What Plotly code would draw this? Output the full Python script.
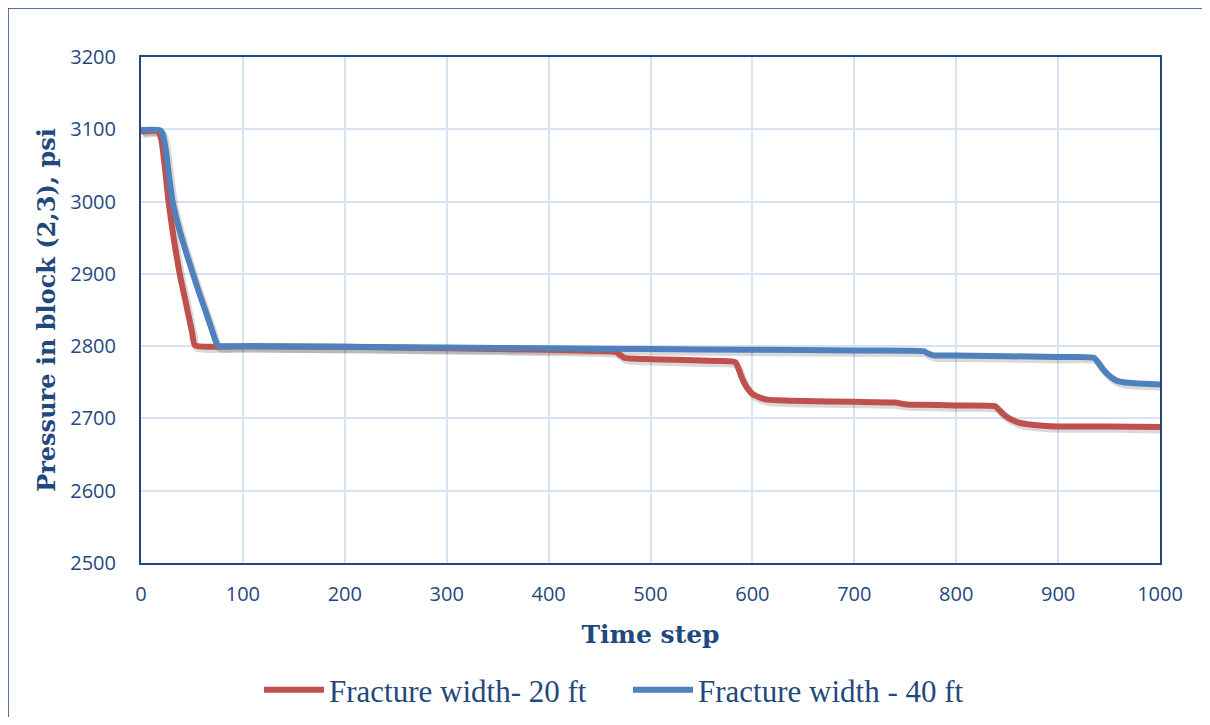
import plotly.graph_objects as go

# ---- data ----
t_20ft = [0, 17, 20, 24, 27, 32, 38, 44, 50, 53, 100, 200, 300, 400, 466, 470, 474, 480, 500, 550,
          583, 586, 590, 595, 600, 607, 615, 625, 650, 700, 740, 748, 755, 765, 800, 838, 842, 847,
          852, 860, 870, 885, 900, 950, 1000]
p_20ft = [3097, 3097, 3085, 3040, 3000, 2950, 2900, 2860, 2820, 2801, 2800, 2799, 2797, 2795, 2792,
          2788, 2784, 2783, 2782, 2780, 2778, 2770, 2755, 2742, 2734, 2729, 2726, 2725, 2724, 2723,
          2722, 2720, 2719, 2719, 2718, 2717, 2712, 2705, 2700, 2695, 2692, 2690, 2689, 2689, 2688]

t_40ft = [0, 18, 21, 24, 28, 31, 36, 41, 46, 51, 57, 63, 69, 75, 77, 100, 200, 300, 400, 500, 600,
          700, 768, 772, 776, 780, 800, 900, 935, 939, 943, 948, 953, 958, 964, 972, 985, 1000]
p_40ft = [3099, 3099, 3095, 3075, 3030, 3000, 2970, 2945, 2922, 2900, 2874, 2850, 2825, 2801, 2800,
          2800, 2799, 2798, 2797, 2796, 2795, 2794, 2793, 2790, 2788, 2787, 2787, 2785, 2784, 2778,
          2770, 2762, 2756, 2752, 2750, 2749, 2748, 2747]

series_names = ["Fracture width- 20 ft", "Fracture width - 40 ft"]
series_colors = ["#C0504D", "#4F81BD"]

x_ticks = list(range(0, 1001, 100))
y_ticks = list(range(2500, 3201, 100))

DARK = "#1F497D"
SERIF = "DejaVu Serif, Liberation Serif, serif"

fig = go.Figure()

# soft drop shadows (Excel-style)
for t, p in [(t_20ft, p_20ft), (t_40ft, p_40ft)]:
    fig.add_trace(go.Scatter(
        x=[v + 2 for v in t], y=[v - 4 for v in p], mode="lines",
        line=dict(color="rgba(0,0,0,0.15)", width=7, shape="spline", smoothing=0.5),
        showlegend=False, hoverinfo="skip"))

for t, p, name, col in [(t_20ft, p_20ft, series_names[0], series_colors[0]),
                        (t_40ft, p_40ft, series_names[1], series_colors[1])]:
    fig.add_trace(go.Scatter(
        x=t, y=p, mode="lines", name=name,
        line=dict(color=col, width=6, shape="spline", smoothing=0.5)))

axis_common = dict(
    showline=True, linecolor=DARK, linewidth=2, mirror=True,
    showgrid=True, gridcolor="#D6E3F2", gridwidth=1.5,
    zeroline=False, ticks="",
    tickfont=dict(family="Open Sans, Liberation Sans, sans-serif", size=20, color=DARK),
)

fig.update_xaxes(
    range=[0, 1000], tickvals=x_ticks, ticktext=[str(v) for v in x_ticks],
    ticklabelstandoff=12,
    title=dict(text="<b>Time step</b>",
               font=dict(family=SERIF, size=25, color=DARK),
               standoff=19),
    **axis_common)
fig.update_yaxes(
    range=[2500, 3200], tickvals=y_ticks, ticktext=[str(v) for v in y_ticks],
    ticklabelstandoff=19,
    title=dict(text="<b>Pressure in block (2,3), psi</b>",
               font=dict(family=SERIF, size=24, color=DARK),
               standoff=8),
    **axis_common)

# page body has an 8px margin; figure is sized so plot area sits where the reference's does
W, H = 1194, 709
l, t_m = 133, 49
r = W + 8 - 1160
b = H + 8 - 563
pw, ph = W - l - r, H - t_m - b

# outer chart frame (left and top edges visible in the reference)
fx = (0 - l) / pw
fy = (H - b - 0) / ph
fig.add_shape(type="line", xref="paper", yref="paper",
              x0=fx, x1=fx, y0=-0.6, y1=fy, line=dict(color=DARK, width=1.5))
fig.add_shape(type="line", xref="paper", yref="paper",
              x0=fx, x1=1.2, y0=fy, y1=fy, line=dict(color=DARK, width=1.5))

fig.update_layout(
    width=W, height=H,
    margin=dict(l=l, r=r, t=t_m, b=b, autoexpand=False),
    paper_bgcolor="white", plot_bgcolor="white",
    legend=dict(orientation="h", x=(259 - 141) / pw, xanchor="left",
                y=-127 / ph, yanchor="middle",
                font=dict(family="Liberation Serif, serif", size=31, color=DARK),
                itemwidth=60, entrywidth=294, entrywidthmode="pixels",
                tracegroupgap=0),
)

fig.write_html("out.html")
